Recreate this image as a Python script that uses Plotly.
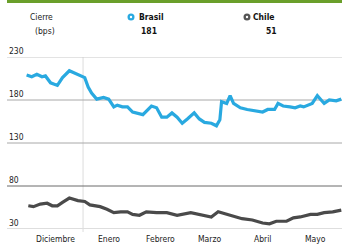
import plotly.graph_objects as go

brasil_dates = ["2014-11-29","2014-12-02","2014-12-05","2014-12-08","2014-12-10","2014-12-13","2014-12-17","2014-12-20","2014-12-24","2014-12-28",
 "2015-01-02","2015-01-04","2015-01-06","2015-01-09","2015-01-13","2015-01-16","2015-01-19","2015-01-21","2015-01-24","2015-01-27","2015-01-30",
 "2015-02-05","2015-02-10","2015-02-13","2015-02-16","2015-02-19","2015-02-22","2015-02-25","2015-02-28",
 "2015-03-03","2015-03-07","2015-03-10","2015-03-13","2015-03-17","2015-03-20","2015-03-22","2015-03-23","2015-03-26","2015-03-28","2015-03-30",
 "2015-04-03","2015-04-07","2015-04-10","2015-04-16","2015-04-19","2015-04-23","2015-04-25","2015-04-28",
 "2015-05-02","2015-05-05","2015-05-08","2015-05-10","2015-05-15","2015-05-18","2015-05-22","2015-05-25","2015-05-29","2015-06-01"]
brasil_values = [209,207,210,207,208,200,197,206,214,210,
 206,195,188,181,183,181,172,174,172,172,166,
 163,173,171,160,160,165,160,153,
 158,165,158,154,153,150,157,178,176,185,176,
 171,169,168,166,169,169,176,173,
 172,171,173,172,176,185,176,180,179,181]

chile_dates = ["2014-11-30","2014-12-03","2014-12-07","2014-12-11","2014-12-14","2014-12-17","2014-12-20","2014-12-24","2014-12-29",
 "2015-01-02","2015-01-05","2015-01-11","2015-01-15","2015-01-19","2015-01-23","2015-01-27","2015-01-30",
 "2015-02-03","2015-02-07","2015-02-13","2015-02-19","2015-02-25",
 "2015-03-05","2015-03-10","2015-03-17","2015-03-21","2015-03-26",
 "2015-04-01","2015-04-04","2015-04-10","2015-04-16","2015-04-20","2015-04-24","2015-04-30",
 "2015-05-04","2015-05-08","2015-05-14","2015-05-18","2015-05-22","2015-05-27","2015-06-01"]
chile_values = [57,56,59,60,57,57,61,66,63,
 62,58,56,53,49,50,50,47,
 46,50,49,49,46,
 49,47,44,50,47,
 44,42,40.5,37,36,39,39,
 43,44,47,47,49,50,52]

month_tickvals = ["2014-12-16","2015-01-16","2015-02-15","2015-03-16","2015-04-16","2015-05-17"]
month_labels = ["Diciembre","Enero","Febrero","Marzo","Abril","Mayo"]
y_ticks = [30, 80, 130, 180, 230]
legend_names = ["Brasil", "Chile"]
legend_last = ["181", "51"]

BLUE = "#29a9e0"
GRAY = "#4a4a4a"
FONT = "DejaVu Sans Condensed, Liberation Sans Narrow, Roboto, sans-serif"

fig = go.Figure()
fig.add_trace(go.Scatter(x=brasil_dates, y=brasil_values, mode="lines",
                         line=dict(color=BLUE, width=3.2), showlegend=False))
fig.add_trace(go.Scatter(x=chile_dates, y=chile_values, mode="lines",
                         line=dict(color=GRAY, width=3.2), showlegend=False))

W, H = 342, 246
ml, mr, mt, mb = 7, 0, 57, 17
pw, ph = W - ml - mr, H - mt - mb

def px(x):
    return (x - ml) / pw

def py(y):
    return 1 + (mt - y) / ph

grid_colors = {230: "#c8c8c8", 180: "#a8a8a8", 130: "#a8a8a8", 80: "#6a6a6a"}

shapes = [
    dict(type="rect", xref="paper", yref="paper", x0=0, x1=1, y0=py(3), y1=py(0),
         fillcolor="#6a9f2a", line=dict(width=0), layer="above"),
    dict(type="line", xref="x", yref="paper", x0="2015-01-01", x1="2015-01-01", y0=py(232), y1=1,
         line=dict(color="#dcdcdc", width=1), layer="below"),
    dict(type="line", xref="paper", yref="y", x0=0, x1=1, y0=30, y1=30,
         line=dict(color="#dedede", width=2), layer="below"),
]
for v, c in grid_colors.items():
    shapes.append(dict(type="line", xref="paper", yref="y", x0=0, x1=1, y0=v, y1=v,
                       line=dict(color=c, width=1), layer="below"))
for cx, col in [(131, BLUE), (247, "#555555")]:
    shapes.append(dict(type="circle", xref="paper", yref="paper", xsizemode="pixel", ysizemode="pixel",
                       xanchor=px(cx), yanchor=py(17), x0=-3.5, x1=3.5, y0=-3.5, y1=3.5,
                       fillcolor=col, line=dict(width=0)))
    shapes.append(dict(type="circle", xref="paper", yref="paper", xsizemode="pixel", ysizemode="pixel",
                       xanchor=px(cx), yanchor=py(17), x0=-1.2, x1=1.2, y0=-1.2, y1=1.2,
                       fillcolor="white", line=dict(width=0)))

f = dict(family=FONT, size=8.5, color="#222222")
fb = dict(family=FONT, size=8.5, color="#111111", weight="bold")
annotations = [
    dict(text="Cierre", x=px(41), y=py(17), xref="paper", yref="paper", showarrow=False, font=f, xanchor="center", yanchor="middle"),
    dict(text="(bps)", x=px(45), y=py(31), xref="paper", yref="paper", showarrow=False, font=f, xanchor="center", yanchor="middle"),
    dict(text=legend_names[0], x=px(137), y=py(17), xref="paper", yref="paper", showarrow=False, font=fb, xanchor="left", yanchor="middle"),
    dict(text=legend_last[0], x=px(149), y=py(31), xref="paper", yref="paper", showarrow=False, font=fb, xanchor="center", yanchor="middle"),
    dict(text=legend_names[1], x=px(251), y=py(17), xref="paper", yref="paper", showarrow=False, font=fb, xanchor="left", yanchor="middle"),
    dict(text=legend_last[1], x=px(279), y=py(31), xref="paper", yref="paper", showarrow=False, font=fb, xanchor="right", yanchor="middle"),
]
for v in y_ticks:
    annotations.append(dict(text=str(v), x=px(8), y=v, xref="paper", yref="y", showarrow=False, font=f,
                            xanchor="left", yanchor="bottom", borderpad=0))
for d, lab in zip(month_tickvals, month_labels):
    annotations.append(dict(text=lab, x=d, y=py(239), xref="x", yref="paper", showarrow=False, font=f,
                            xanchor="center", yanchor="middle"))

fig.update_layout(
    width=W, height=H,
    margin=dict(l=ml, r=mr, t=mt, b=mb, pad=0),
    paper_bgcolor="white", plot_bgcolor="white",
    font=f,
    shapes=shapes,
    annotations=annotations,
    xaxis=dict(type="date", range=["2014-11-17 13:00", "2015-06-01 10:00"],
               tickvals=month_tickvals, showticklabels=False,
               showgrid=False, zeroline=False, showline=False, ticks="", fixedrange=True),
    yaxis=dict(range=[30, 230], tickvals=y_ticks, showticklabels=False,
               showgrid=False, zeroline=False, showline=False,
               ticks="", fixedrange=True),
)

fig.write_html("out.html", config={"displayModeBar": False},
               post_script="document.body.style.margin='0';document.body.style.padding='0';")
